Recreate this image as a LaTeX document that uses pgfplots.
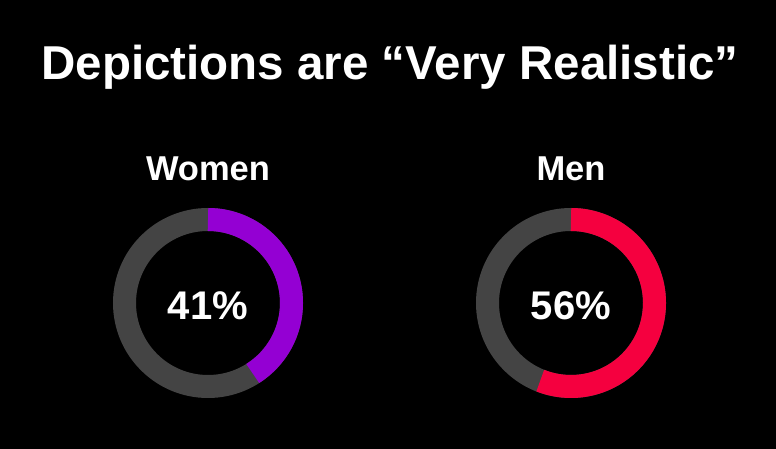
\documentclass[border=0pt]{standalone}
\usepackage{pgfplots}
\pgfplotsset{compat=1.18}
\usepackage{fontspec}
\setmainfont{Liberation Sans}
\definecolor{ringgray}{HTML}{444444}
\definecolor{purp}{HTML}{9400D3}
\definecolor{redc}{HTML}{F5003F}
\def\womenval{41}
\def\menval{56}
\begin{document}
\begin{tikzpicture}
\begin{axis}[x=1bp,y=1bp,xmin=0,xmax=776,ymin=0,ymax=449,axis lines=none,clip=false,scale only axis]
\fill[black] (axis cs:0,0) rectangle (axis cs:776,449);
% rings
\draw[ringgray,line width=23bp] (axis cs:208,146) circle[radius=83.5bp];
\draw[purp,line width=23bp] (axis cs:208,229.5) arc[start angle=90,end angle={90-3.6*\womenval},radius=83.5bp];
\draw[ringgray,line width=23bp] (axis cs:571,146) circle[radius=83.5bp];
\draw[redc,line width=23bp] (axis cs:571,229.5) arc[start angle=90,end angle={90-3.6*\menval},radius=83.5bp];
% texts
\node[white,anchor=base,inner sep=0pt,font=\fontsize{47.5bp}{52bp}\selectfont\bfseries] at (axis cs:390,369) {Depictions are “Very Realistic”};
\node[white,anchor=base,inner sep=0pt,font=\fontsize{34.5bp}{38bp}\selectfont\bfseries] at (axis cs:208,268) {Women};
\node[white,anchor=base,inner sep=0pt,font=\fontsize{34.5bp}{38bp}\selectfont\bfseries] at (axis cs:571,268) {Men};
\node[white,anchor=base,inner sep=0pt,font=\fontsize{40bp}{44bp}\selectfont\bfseries] at (axis cs:208,129) {\womenval\%};
\node[white,anchor=base,inner sep=0pt,font=\fontsize{40bp}{44bp}\selectfont\bfseries] at (axis cs:571,129) {\menval\%};
\end{axis}
\end{tikzpicture}
\end{document}
